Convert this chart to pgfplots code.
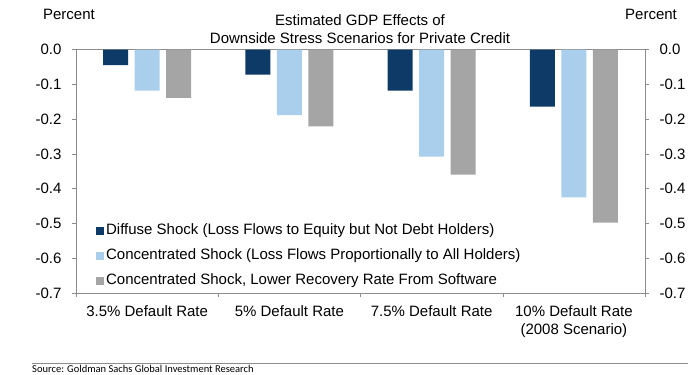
\documentclass[border=0pt]{standalone}
\usepackage{pgfplots}
\pgfplotsset{compat=1.18}
\usepackage{fontspec}
\setmainfont{Liberation Sans}
\newfontfamily\srcfont{Carlito}
\definecolor{navy}{HTML}{0D3A66}
\definecolor{lblue}{HTML}{A9CFEC}
\definecolor{mgray}{HTML}{A5A5A5}
\definecolor{axgray}{HTML}{8C8C8C}
\pgfplotsset{yfmt/.style={
  /pgf/number format/fixed, /pgf/number format/fixed zerofill,
  /pgf/number format/precision=1, /pgf/number format/assume math mode=true}}
\begin{document}
\begin{tikzpicture}
\path[use as bounding box] (0bp,0bp) rectangle (700bp,375bp);
\begin{axis}[
  at={(76bp,82bp)}, anchor=south west,
  scale only axis, width=569bp, height=243.5bp,
  xmin=-0.5, xmax=3.5, ymin=-0.7, ymax=0,
  axis line style={axgray},
  every tick/.style={axgray},
  tick align=outside,
  major tick length=4bp, minor tick length=4bp,
  ytick={-0.7,-0.6,-0.5,-0.4,-0.3,-0.2,-0.1,0},
  ytick pos=left,
  yfmt,
  yticklabel style={font=\fontsize{15bp}{17bp}\selectfont, xshift=-7bp},
  xtick={0,1,2,3},
  xticklabels={3.5\% Default Rate,5\% Default Rate,7.5\% Default Rate,10\% Default Rate\\(2008 Scenario)},
  xticklabel style={font=\fontsize{15bp}{18.5bp}\selectfont, align=center, yshift=-5bp},
  major x tick style={draw=none},
  minor xtick={-0.5,0.5,1.5,2.5,3.5},
  xtick pos=bottom,
  ybar, bar width=0.176,
  legend style={at={(rel axis cs:0.035,0.29)}, anchor=north west, draw=none, fill=none,
    inner sep=0pt, row sep=9bp, cells={anchor=west},
    font=\fontsize{15bp}{17bp}\selectfont,
    nodes={inner xsep=2bp, inner ysep=1bp, text height=11bp, text depth=3bp}},
  legend image code/.code={\fill[#1] (0bp,-4bp) rectangle (8bp,4bp);},
]
\addplot[fill=navy, draw=none, bar shift=-0.222] coordinates {(0,-0.045) (1,-0.072) (2,-0.118) (3,-0.164)};
\addplot[fill=lblue, draw=none, bar shift=0] coordinates {(0,-0.118) (1,-0.189) (2,-0.308) (3,-0.425)};
\addplot[fill=mgray, draw=none, bar shift=0.222] coordinates {(0,-0.139) (1,-0.221) (2,-0.360) (3,-0.498)};
\legend{Diffuse Shock (Loss Flows to Equity but Not Debt Holders),Concentrated Shock (Loss Flows Proportionally to All Holders),{Concentrated Shock, Lower Recovery Rate From Software}}
\end{axis}
\begin{axis}[
  at={(76bp,82bp)}, anchor=south west,
  scale only axis, width=569bp, height=243.5bp,
  xmin=-0.5, xmax=3.5, ymin=-0.7, ymax=0,
  axis x line=none, axis y line*=right,
  axis line style={axgray, -},
  every tick/.style={axgray},
  tick align=outside,
  major tick length=4bp,
  ytick={-0.7,-0.6,-0.5,-0.4,-0.3,-0.2,-0.1,0},
  yfmt,
  yticklabel style={font=\fontsize{15bp}{17bp}\selectfont, xshift=7bp},
]
\end{axis}
\node[font=\fontsize{15bp}{17bp}\selectfont] at (69bp,361bp) {Percent};
\node[font=\fontsize{15bp}{17bp}\selectfont] at (651bp,361bp) {Percent};
\node[align=center, font=\fontsize{15bp}{17.7bp}\selectfont] at (360bp,346bp) {Estimated GDP Effects of\\Downside Stress Scenarios for Private Credit};
\draw[axgray, line width=0.8bp] (32bp,12bp) -- (688bp,12bp);
\node[anchor=base west, inner sep=0pt, font=\srcfont\fontsize{10.5bp}{12bp}\selectfont] at (32bp,2.8bp) {Source: Goldman Sachs Global Investment Research};
\end{tikzpicture}
\end{document}
